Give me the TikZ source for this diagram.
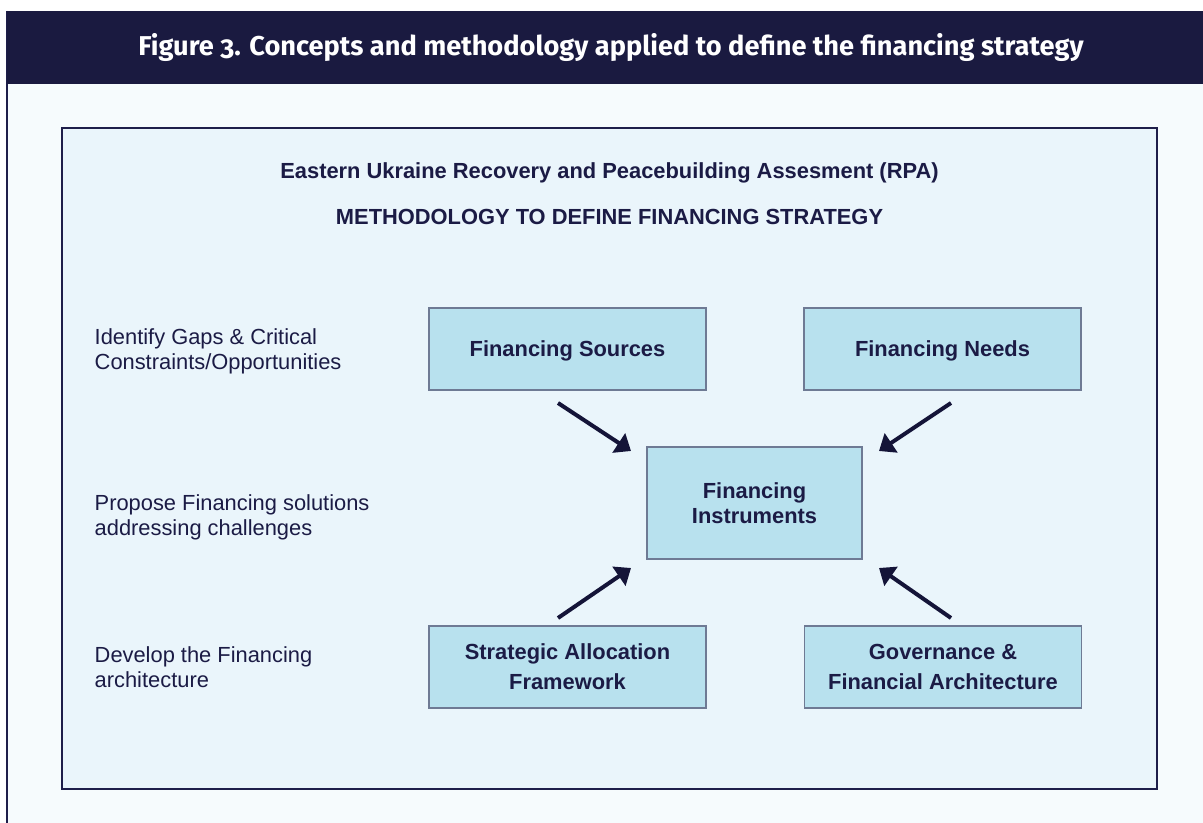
\documentclass[tikz,border=0pt]{standalone}
\usepackage{fontspec}
\setmainfont{Liberation Sans}
\newfontfamily\figfont[Numbers=OldStyle]{Fira Sans}
\usetikzlibrary{arrows.meta}

\definecolor{banner}{HTML}{1A1A40}
\definecolor{panelbg}{HTML}{F6FBFD}
\definecolor{framebg}{HTML}{EAF5FB}
\definecolor{frameline}{HTML}{1E1E4A}
\definecolor{boxfill}{HTML}{B8E1EE}
\definecolor{boxline}{HTML}{6E7A94}
\definecolor{ink}{HTML}{1B1B45}
\definecolor{arrowink}{HTML}{141438}

\tikzset{
	figtitle/.style={text=white, font=\figfont\bfseries\fontsize{20.4}{24}\selectfont},
	head/.style={text=ink, font=\bfseries\fontsize{16.4}{20}\selectfont},
	fbox/.style={draw=boxline, fill=boxfill, line width=1pt, minimum width=207.75pt, minimum height=61.5pt, text depth=0pt, align=center, text=ink, font=\bfseries\fontsize{16.4}{22.5}\selectfont},
	side/.style={anchor=west, align=left, text=ink, font=\fontsize{16.4}{18.75}\selectfont},
	flow/.style={draw=arrowink, line width=3pt, -{Triangle[length=11pt,width=17pt]}}
}

\begin{document}
\begin{tikzpicture}[x=0.75pt, y=-0.75pt]
		\useasboundingbox (0,0) rectangle (1203,823);
		\fill[white] (0,0) rectangle (1203,823);
		\fill[panelbg] (7,84) rectangle (1203,823);
		\draw[frameline, line width=1.2pt] (7,11) -- (7,823);
		\fill[banner] (7,11) rectangle (1203,84);
		\node[figtitle] (title) at (611,47) {Figure 3. Concepts and methodology applied to define the financing strategy};
		\draw[frameline, fill=framebg, line width=2pt] (62,128) rectangle (1157,789);
		\node[head] (rpa) at (609.5,172.5) {Eastern Ukraine Recovery and Peacebuilding Assesment (RPA)};
		\node[head] (meth) at (609.5,216.5) {METHODOLOGY TO DEFINE FINANCING STRATEGY};
		% steps on the left
		\node[side] (gaps) at (90,351.5) {Identify Gaps \& Critical\\Constraints/Opportunities};
		\node[side] (solve) at (90,517.5) {Propose Financing solutions\\addressing challenges};
		\node[side] (arch) at (90,667.5) {Develop the Financing\\architecture};
		% boxes
		\node[fbox] (src) at (567.5,349) {Financing Sources};
		\node[fbox] (need) at (942.5,349) {Financing Needs};
		\node[fbox, minimum width=161.25pt, minimum height=84pt, font=\bfseries\fontsize{16.4}{18.75}\selectfont] (inst) at (754.5,503) {Financing\\Instruments};
		\node[fbox] (alloc) at (567.5,667) {Strategic Allocation\\Framework};
		\node[fbox] (gov) at (943,667) {Governance \&\\Financial Architecture};
		% arrows
		\coordinate (a1) at (558,403); \coordinate (b1) at (631,451);
		\coordinate (a2) at (951,403); \coordinate (b2) at (879,451);
		\coordinate (a3) at (558,618); \coordinate (b3) at (631,568);
		\coordinate (a4) at (951,618); \coordinate (b4) at (879,568);
		\draw[flow] (a1) -- (b1);
		\draw[flow] (a2) -- (b2);
		\draw[flow] (a3) -- (b3);
		\draw[flow] (a4) -- (b4);
	\end{tikzpicture}
\end{document}
